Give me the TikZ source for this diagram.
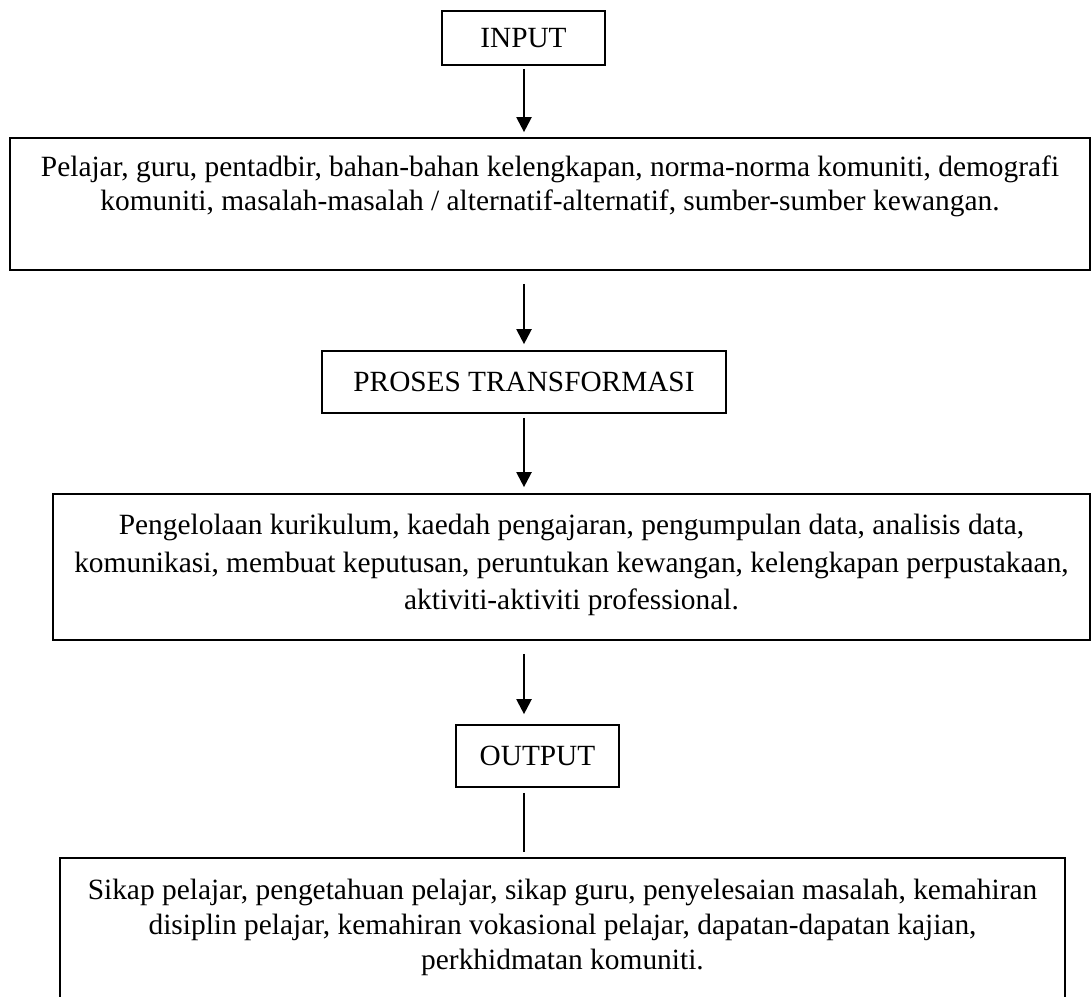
\documentclass[tikz,border=0pt]{standalone}
\usepackage{fontspec}
\setmainfont{Liberation Serif}
\usetikzlibrary{arrows.meta}
\tikzset{
  boxstyle/.style={draw, line width=1.7pt, inner sep=0pt},
  txt/.style={inner sep=0pt, align=center, anchor=north},
  arr/.style={line width=2.2pt, -{Triangle[width=15pt,length=15pt]}},
  plain/.style={line width=1.8pt}
}
\begin{document}
\begin{tikzpicture}[x=1pt,y=-1pt]
\useasboundingbox (0,0) rectangle (1091,996);
\clip (0,0) rectangle (1091,996);
\fontsize{29.3}{28}\selectfont
% boxes
\node[boxstyle, minimum width=163pt, minimum height=54pt] (in) at (523.5,38) {INPUT};
\node[boxstyle, minimum width=1080pt, minimum height=132pt] (b2) at (550,204) {};
\node[boxstyle, minimum width=404pt, minimum height=62pt] (proc) at (524,382) {PROSES TRANSFORMASI};
\node[boxstyle, minimum width=1037pt, minimum height=146pt] (b4) at (571.5,567) {};
\node[boxstyle, minimum width=163pt, minimum height=62pt] (out) at (537.5,756) {OUTPUT};
\node[boxstyle, minimum width=1005pt, minimum height=160pt] (b6) at (562.5,938) {};
% texts
\node[txt, font=\fontsize{29.4}{34}\selectfont] (t2) at (550,156) {Pelajar, guru, pentadbir, bahan-bahan kelengkapan, norma-norma komuniti, demografi\\komuniti, masalah-masalah / alternatif-alternatif, sumber-sumber kewangan.};
\node[txt, font=\fontsize{29.4}{37.5}\selectfont] (t4) at (571.5,514) {Pengelolaan kurikulum, kaedah pengajaran, pengumpulan data, analisis data,\\komunikasi, membuat keputusan, peruntukan kewangan, kelengkapan perpustakaan,\\aktiviti-aktiviti professional.};
\node[txt, font=\fontsize{29.4}{35}\selectfont] (t6) at (562.5,879) {Sikap pelajar, pengetahuan pelajar, sikap guru, penyelesaian masalah, kemahiran\\disiplin pelajar, kemahiran vokasional pelajar, dapatan-dapatan kajian,\\perkhidmatan komuniti.};
% connectors
\coordinate (ax) at (524,0);
\draw[arr, shorten <=3pt, shorten >=5pt] (ax |- in.south) -- (ax |- b2.north);
\draw[arr, shorten <=13pt, shorten >=6pt] (ax |- b2.south) -- (ax |- proc.north);
\draw[arr, shorten <=4pt, shorten >=6pt] (ax |- proc.south) -- (ax |- b4.north);
\draw[arr, shorten <=13pt, shorten >=10pt] (ax |- b4.south) -- (ax |- out.north);
\draw[plain, shorten <=5pt, shorten >=5pt] (ax |- out.south) -- (ax |- b6.north);
\end{tikzpicture}
\end{document}
